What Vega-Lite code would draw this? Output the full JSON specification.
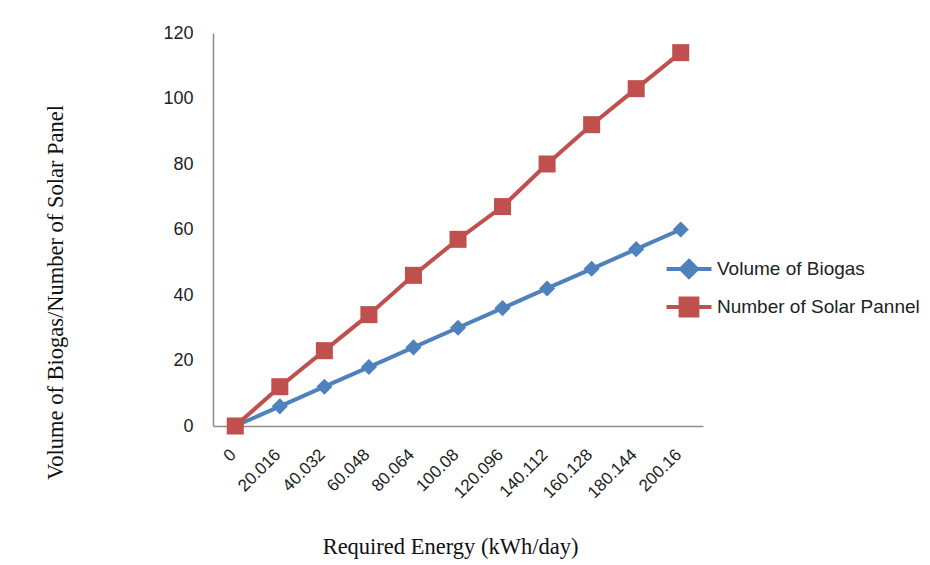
{
  "$schema": "https://vega.github.io/schema/vega-lite/v6.json",
  "width": 490,
  "height": 393,
  "autosize": {"type": "none"},
  "padding": {"left": 213, "top": 33, "right": 227, "bottom": 139},
  "background": "white",
  "config": {
    "view": {"stroke": null},
    "axis": {"labelFont": "Liberation Sans", "labelFontSize": 17, "labelColor": "#222222", "titleFont": "Liberation Serif", "titleFontSize": 22.5, "titleFontWeight": "normal", "titleColor": "#111111", "domainColor": "#8c8c8c", "domainWidth": 1.5, "grid": false, "ticks": false}
  },
  "data": {
    "values": [
      {"energy": "0", "series": "Volume of Biogas", "value": 0},
      {"energy": "20.016", "series": "Volume of Biogas", "value": 6},
      {"energy": "40.032", "series": "Volume of Biogas", "value": 12},
      {"energy": "60.048", "series": "Volume of Biogas", "value": 18},
      {"energy": "80.064", "series": "Volume of Biogas", "value": 24},
      {"energy": "100.08", "series": "Volume of Biogas", "value": 30},
      {"energy": "120.096", "series": "Volume of Biogas", "value": 36},
      {"energy": "140.112", "series": "Volume of Biogas", "value": 42},
      {"energy": "160.128", "series": "Volume of Biogas", "value": 48},
      {"energy": "180.144", "series": "Volume of Biogas", "value": 54},
      {"energy": "200.16", "series": "Volume of Biogas", "value": 60},
      {"energy": "0", "series": "Number of Solar Pannel", "value": 0},
      {"energy": "20.016", "series": "Number of Solar Pannel", "value": 12},
      {"energy": "40.032", "series": "Number of Solar Pannel", "value": 23},
      {"energy": "60.048", "series": "Number of Solar Pannel", "value": 34},
      {"energy": "80.064", "series": "Number of Solar Pannel", "value": 46},
      {"energy": "100.08", "series": "Number of Solar Pannel", "value": 57},
      {"energy": "120.096", "series": "Number of Solar Pannel", "value": 67},
      {"energy": "140.112", "series": "Number of Solar Pannel", "value": 80},
      {"energy": "160.128", "series": "Number of Solar Pannel", "value": 92},
      {"energy": "180.144", "series": "Number of Solar Pannel", "value": 103},
      {"energy": "200.16", "series": "Number of Solar Pannel", "value": 114}
    ]
  },
  "encoding": {
    "x": {
      "field": "energy",
      "type": "ordinal",
      "sort": null,
      "title": "Required Energy (kWh/day)",
      "axis": {"labelAngle": -45, "labelPadding": 20, "labelOffset": -8, "titleY": 127, "titleBaseline": "alphabetic", "titleX": 237}
    },
    "y": {
      "field": "value",
      "type": "quantitative",
      "scale": {"domain": [0, 120], "nice": false},
      "title": "Volume of Biogas/Number of Solar Panel",
      "axis": {"values": [0, 20, 40, 60, 80, 100, 120], "labelPadding": 20, "labelFontSize": 18, "titleX": -158, "titleY": 259, "titleBaseline": "middle"}
    },
    "color": {
      "field": "series",
      "type": "nominal",
      "scale": {"domain": ["Volume of Biogas", "Number of Solar Pannel"], "range": ["#4F81BD", "#C0504D"]},
      "legend": {
        "title": null,
        "orient": "none",
        "legendX": 454,
        "legendY": 214,
        "padding": 0,
        "rowPadding": 0,
        "symbolSize": 1600,
        "symbolType": "M-1.125,0H1.125M0,-0.4L0.4,0L0,0.4L-0.4,0Z",
        "labelOffset": 6,
        "labelFont": "Liberation Sans",
        "labelFontSize": 19,
        "labelColor": "#222222",
        "labelLimit": 400,
        "encode": {
          "symbols": {
            "update": {
              "shape": {"signal": "datum.value === 'Volume of Biogas' ? 'M-1.125,0H1.125M0,-0.4L0.4,0L0,0.4L-0.4,0Z' : 'M-1.125,0H1.125M-0.42,-0.42H0.42V0.42H-0.42Z'"},
              "fill": {"signal": "datum.value === 'Volume of Biogas' ? '#4F81BD' : '#C0504D'"},
              "stroke": {"signal": "datum.value === 'Volume of Biogas' ? '#4F81BD' : '#C0504D'"},
              "strokeWidth": {"value": 4},
              "opacity": {"value": 1},
              "fillOpacity": {"value": 1}
            }
          }
        }
      }
    }
  },
  "layer": [
    {
      "mark": {"type": "line", "strokeWidth": 4}
    },
    {
      "transform": [{"filter": "datum.series === 'Volume of Biogas'"}],
      "mark": {"type": "point", "filled": true, "opacity": 1, "size": 260, "shape": "diamond"}
    },
    {
      "transform": [{"filter": "datum.series === 'Number of Solar Pannel'"}],
      "mark": {"type": "point", "filled": true, "opacity": 1, "size": 290, "shape": "square"}
    }
  ]
}
